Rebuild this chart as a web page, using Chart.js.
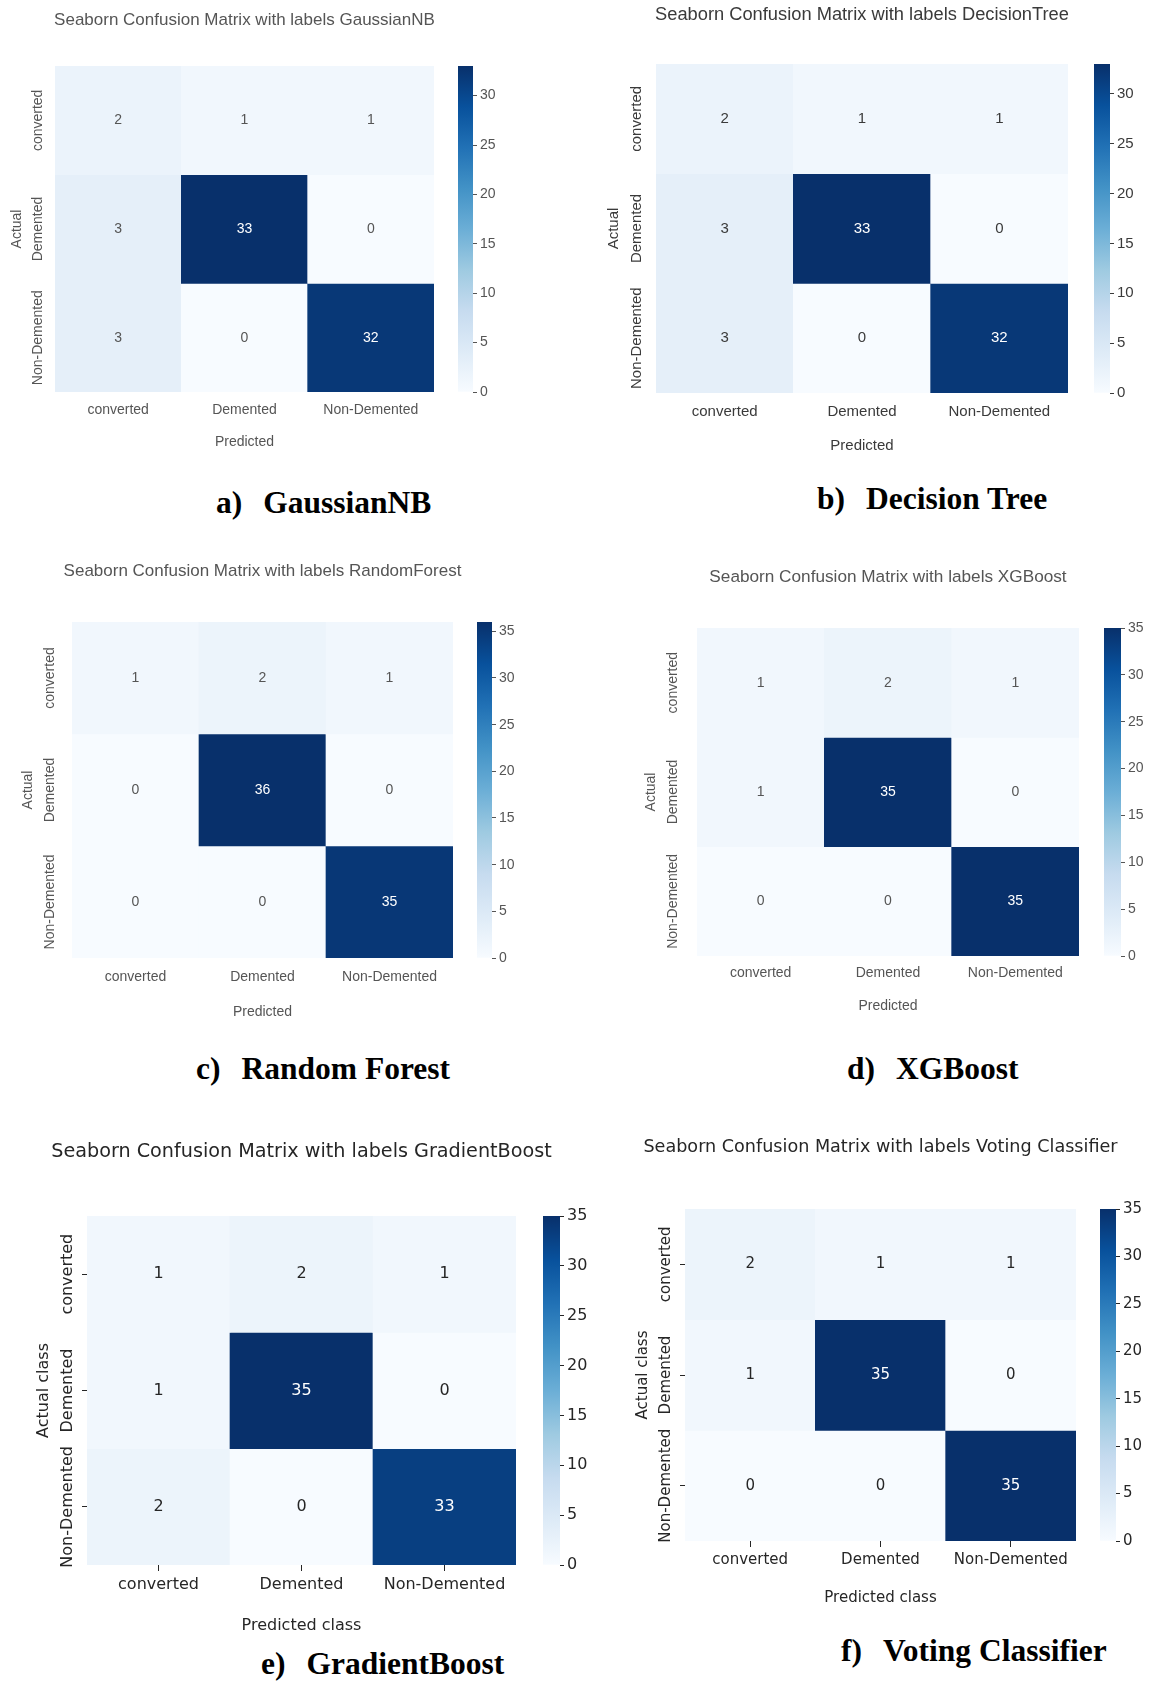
<!DOCTYPE html>
<html>
<head>
<meta charset="utf-8">
<title>Confusion matrices</title>
<script src="https://cdn.jsdelivr.net/npm/chart.js@4.4.1/dist/chart.umd.min.js"></script>
<style>
  html, body { margin: 0; padding: 0; background: #ffffff; }
  body { position: relative; width: 1149px; height: 1681px; overflow: hidden; }
  canvas { position: absolute; }
  .cap {
    position: absolute; white-space: pre; line-height: 1; color: #000;
    font-family: "Liberation Serif", "Times New Roman", serif; font-weight: bold;
  }
</style>
</head>
<body>
<script>
// ---- data ---------------------------------------------------------------
const classes = ['converted', 'Demented', 'Non-Demented'];

// rows = actual class, columns = predicted class
const gaussianNB    = [[2, 1, 1], [3, 33, 0], [3, 0, 32]];
const decisionTree  = [[2, 1, 1], [3, 33, 0], [3, 0, 32]];
const randomForest  = [[1, 2, 1], [0, 36, 0], [0, 0, 35]];
const xgBoost       = [[1, 2, 1], [1, 35, 0], [0, 0, 35]];
const gradientBoost = [[1, 2, 1], [1, 35, 0], [2, 0, 33]];
const votingClf     = [[2, 1, 1], [1, 35, 0], [0, 0, 35]];

const colorbarTicksTo30 = [0, 5, 10, 15, 20, 25, 30];
const colorbarTicksTo35 = [0, 5, 10, 15, 20, 25, 30, 35];

const modelLabels  = ['GaussianNB', 'DecisionTree', 'RandomForest', 'XGBoost', 'GradientBoost', 'Voting Classifier'];
const captionTags  = ['a)', 'b)', 'c)', 'd)', 'e)', 'f)'];
const captionNames = ['GaussianNB', 'Decision Tree', 'Random Forest', 'XGBoost', 'GradientBoost', 'Voting Classifier'];

// ---- colour map (matplotlib "Blues") ------------------------------------
const BLUES = ['#f7fbff', '#deebf7', '#c6dbef', '#9ecae1', '#6baed6', '#4292c6', '#2171b5', '#08519c', '#08306b'];
function hexRgb(h) { return [1, 3, 5].map(i => parseInt(h.slice(i, i + 2), 16)); }
function blues(t) {
  t = Math.max(0, Math.min(1, t));
  const p = t * (BLUES.length - 1);
  const i = Math.min(Math.floor(p), BLUES.length - 2);
  const f = p - i;
  const a = hexRgb(BLUES[i]), b = hexRgb(BLUES[i + 1]);
  const c = a.map((v, k) => Math.round(v + (b[k] - v) * f));
  return `rgb(${c[0]},${c[1]},${c[2]})`;
}
function luminance(rgbStr) {
  const [r, g, b] = rgbStr.match(/\d+/g).map(Number).map(c => {
    c /= 255;
    return c <= 0.03928 ? c / 12.92 : Math.pow((c + 0.055) / 1.055, 2.4);
  });
  return 0.2126 * r + 0.7152 * g + 0.0722 * b;
}

// ---- panel layout ---------------------------------------------------------
const SANS = "'Liberation Sans', Arial, Helvetica, sans-serif";
const DEJAVU = "'DejaVu Sans', 'Bitstream Vera Sans', sans-serif";

const panels = [
  { matrix: gaussianNB, cbTicks: colorbarTicksTo30, family: SANS, color: '#555555', tick: 14, titleSize: 17, marks: false, soft: 0.5,
    xTitle: 'Predicted', yTitle: 'Actual',
    heat: { l: 55, r: 434, t: 66, b: 392 }, titleY: 20, rowX: 38, yTitleX: 17, xTickY: 410, xTitleY: 443, cb: { l: 458, r: 473 },
    cap: { x: 216, y: 503 } },
  { matrix: decisionTree, cbTicks: colorbarTicksTo30, family: SANS, color: '#3a3a3a', tick: 15, titleSize: 18.3, marks: false, soft: 0,
    xTitle: 'Predicted', yTitle: 'Actual',
    heat: { l: 656, r: 1068, t: 64, b: 393 }, titleY: 15, rowX: 637, yTitleX: 614, xTickY: 412, xTitleY: 446, cb: { l: 1094, r: 1110 },
    cap: { x: 817, y: 499 } },
  { matrix: randomForest, cbTicks: colorbarTicksTo35, family: SANS, color: '#555555', tick: 14, titleSize: 17, marks: false, soft: 0.5,
    xTitle: 'Predicted', yTitle: 'Actual',
    heat: { l: 72, r: 453, t: 622, b: 958 }, titleY: 571, rowX: 50, yTitleX: 28, xTickY: 977, xTitleY: 1013, cb: { l: 477, r: 492 },
    cap: { x: 196, y: 1069 } },
  { matrix: xgBoost, cbTicks: colorbarTicksTo35, family: SANS, color: '#555555', tick: 14, titleSize: 17.2, marks: false, soft: 0.5,
    xTitle: 'Predicted', yTitle: 'Actual',
    heat: { l: 697, r: 1079, t: 628, b: 956 }, titleY: 577, rowX: 673, yTitleX: 651, xTickY: 973, xTitleY: 1007, cb: { l: 1104, r: 1121 },
    cap: { x: 847, y: 1069 } },
  { matrix: gradientBoost, cbTicks: colorbarTicksTo35, family: DEJAVU, color: '#262626', tick: 16, titleSize: 19.2, marks: true, soft: 0,
    xTitle: 'Predicted class', yTitle: 'Actual class',
    heat: { l: 87, r: 516, t: 1216, b: 1565 }, titleY: 1152, rowX: 68, yTitleX: 44, xTickY: 1585, xTitleY: 1625, cb: { l: 543, r: 560 },
    cap: { x: 261, y: 1664 } },
  { matrix: votingClf, cbTicks: colorbarTicksTo35, family: DEJAVU, color: '#262626', tick: 15, titleSize: 17.6, marks: true, soft: 0,
    xTitle: 'Predicted class', yTitle: 'Actual class',
    heat: { l: 685, r: 1076, t: 1209, b: 1541 }, titleY: 1147, rowX: 666, yTitleX: 643, xTickY: 1560, xTitleY: 1598, cb: { l: 1100, r: 1116 },
    cap: { x: 841, y: 1651 } }
];

function makeCanvas(left, top, w, h, soft) {
  const c = document.createElement('canvas');
  c.width = Math.round(w); c.height = Math.round(h);
  c.style.left = Math.round(left) + 'px'; c.style.top = Math.round(top) + 'px';
  c.style.width = Math.round(w) + 'px'; c.style.height = Math.round(h) + 'px';
  if (soft) c.style.filter = `blur(${soft}px)`;
  document.body.appendChild(c);
  return c;
}

// ---- heatmap --------------------------------------------------------------
function drawHeatmap(p, idx) {
  const lh = p.tick * 1.2;
  const cL = p.yTitleX - 14;
  const cT = p.titleY - 16;
  const cR = Math.min(1149, p.heat.r + 90);
  const cB = Math.round(p.xTitleY + lh / 2 + 4);
  const canvas = makeCanvas(cL, cT, cR - cL, cB - cT, p.soft);
  const vmax = Math.max(...p.matrix.flat());
  const tl = p.marks ? 6 : 0;
  const font = { family: p.family, size: p.tick };
  const title = 'Seaborn Confusion Matrix with labels ' + modelLabels[idx];

  const datasets = p.matrix.map((row, r) => ({
    label: classes[r],
    data: row.map(() => [r, r + 1]),
    backgroundColor: row.map(v => blues(v / vmax)),
    borderWidth: 0,
    barPercentage: 1,
    categoryPercentage: 1,
    grouped: false
  }));

  const annotate = {
    id: 'annotate',
    afterDatasetsDraw(chart) {
      const { ctx, chartArea: a, scales: { x, y } } = chart;
      ctx.save();
      ctx.textAlign = 'center';
      ctx.textBaseline = 'middle';
      ctx.font = `${p.tick}px ${p.family}`;
      p.matrix.forEach((row, r) => row.forEach((v, c) => {
        ctx.fillStyle = luminance(blues(v / vmax)) > 0.408 ? p.color : '#ffffff';
        ctx.fillText(String(v), x.getPixelForValue(c), y.getPixelForValue(r + 0.5));
      }));
      ctx.fillStyle = p.color;
      classes.forEach((lab, r) => {
        ctx.save();
        ctx.translate(p.rowX - cL, y.getPixelForValue(r + 0.5));
        ctx.rotate(-Math.PI / 2);
        ctx.fillText(lab, 0, 0);
        ctx.restore();
      });
      ctx.font = `${p.titleSize}px ${p.family}`;
      ctx.fillText(title, (a.left + a.right) / 2, p.titleY - cT);
      ctx.restore();
    }
  };

  new Chart(canvas, {
    type: 'bar',
    data: { labels: classes, datasets },
    options: {
      responsive: false,
      animation: false,
      events: [],
      layout: { padding: { top: p.heat.t - cT, left: 0, right: cR - p.heat.r, bottom: 0 } },
      plugins: { legend: { display: false }, tooltip: { enabled: false }, title: { display: false } },
      scales: {
        x: {
          type: 'category',
          offset: true,
          grid: { display: p.marks, drawOnChartArea: false, drawTicks: true, tickLength: tl, offset: false, color: p.color, lineWidth: 1 },
          border: { display: false },
          ticks: { font, color: p.color, padding: p.xTickY - p.heat.b - tl - lh / 2, maxRotation: 0, minRotation: 0, autoSkip: false },
          title: { display: true, text: p.xTitle, font, color: p.color, padding: { top: 0, bottom: 4 } },
          afterFit: s => { s.height = cB - p.heat.b; }
        },
        y: {
          type: 'linear',
          min: 0, max: classes.length,
          reverse: true,
          grid: { display: p.marks, drawOnChartArea: false, drawTicks: true, tickLength: 5, color: p.color, lineWidth: 1 },
          border: { display: false },
          ticks: { display: false },
          afterBuildTicks: s => { s.ticks = classes.map((_, r) => ({ value: r + 0.5 })); },
          title: { display: true, text: p.yTitle, font, color: p.color, padding: { top: Math.max(0, p.yTitleX - cL - lh / 2), bottom: 0 } },
          afterFit: s => { s.width = p.heat.l - cL; }
        }
      }
    },
    plugins: [annotate]
  });

  // colour bar
  const axisW = 46, pad = 14;
  const cbCanvas = makeCanvas(p.cb.l, p.heat.t - pad, (p.cb.r - p.cb.l) + axisW, (p.heat.b - p.heat.t) + 2 * pad, p.soft);
  new Chart(cbCanvas, {
    type: 'bar',
    data: {
      labels: [''],
      datasets: [{
        data: [[0, vmax]],
        borderWidth: 0,
        barPercentage: 1,
        categoryPercentage: 1,
        backgroundColor: ctx => {
          const chart = ctx.chart;
          const ys = chart.scales.y;
          if (!chart.chartArea || !ys) return BLUES[4];
          const g = chart.ctx.createLinearGradient(0, ys.getPixelForValue(0), 0, ys.getPixelForValue(vmax));
          BLUES.forEach((c, i) => g.addColorStop(i / (BLUES.length - 1), c));
          return g;
        }
      }]
    },
    options: {
      responsive: false,
      animation: false,
      events: [],
      layout: { padding: { top: pad, bottom: pad, left: 0, right: 0 } },
      plugins: { legend: { display: false }, tooltip: { enabled: false } },
      scales: {
        x: { display: false },
        y: {
          position: 'right',
          min: 0, max: vmax,
          afterBuildTicks: s => { s.ticks = p.cbTicks.map(v => ({ value: v })); },
          ticks: { font, color: p.color, padding: 3 },
          grid: { drawOnChartArea: false, drawTicks: true, tickLength: 4, color: p.color, lineWidth: 1 },
          border: { display: false },
          afterFit: s => { s.width = axisW; }
        }
      }
    }
  });

  // caption under the panel
  const capSize = 31.5;
  const cap = document.createElement('div');
  cap.className = 'cap';
  cap.style.fontSize = capSize + 'px';
  cap.style.left = p.cap.x + 'px';
  cap.style.top = Math.round(p.cap.y - capSize / 2) + 'px';
  cap.textContent = captionTags[idx];
  const name = document.createElement('span');
  name.style.marginLeft = '21px';
  name.textContent = captionNames[idx];
  cap.appendChild(name);
  document.body.appendChild(cap);
}

panels.forEach(drawHeatmap);
</script>
</body>
</html>
